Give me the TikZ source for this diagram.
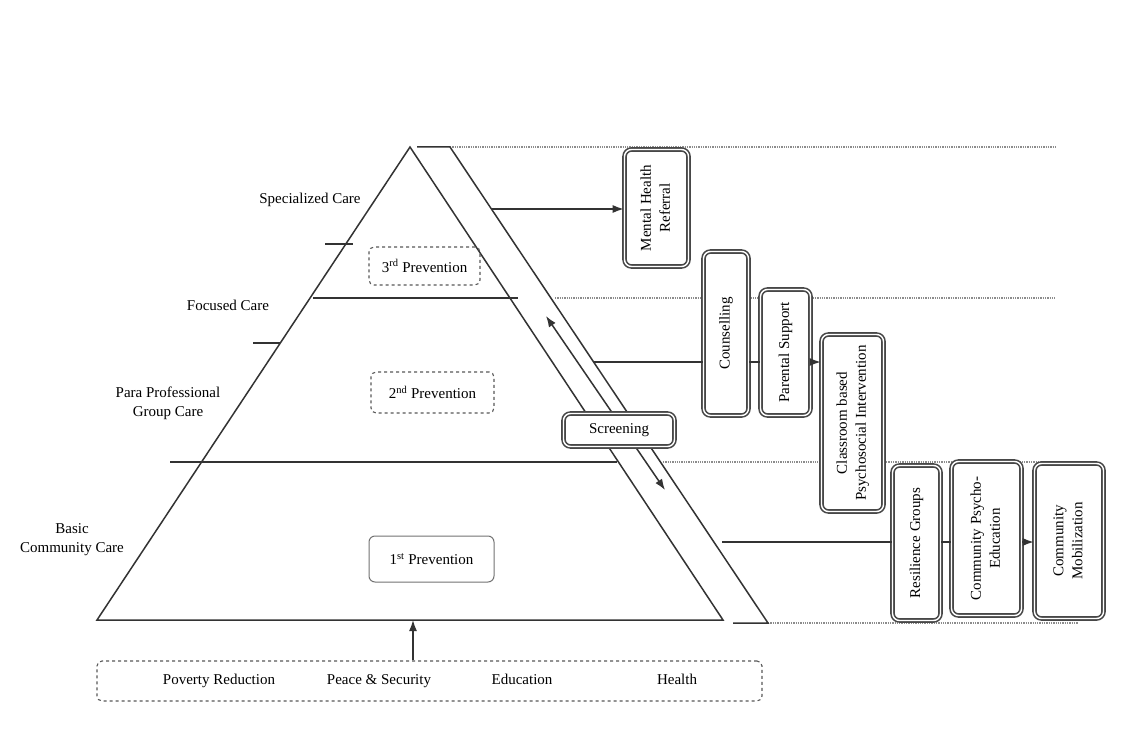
\documentclass[tikz,border=0pt]{standalone}
\usepackage{fontspec}
\setmainfont{Liberation Serif}
\usetikzlibrary{arrows.meta}
\begin{document}
\begin{tikzpicture}[x=1pt,y=-1pt,
  every node/.style={font=\fontsize{15}{19}\selectfont, text=black},
  ln/.style={line width=1.5pt, draw=black!80},
  dotln/.style={line width=1.3pt, draw=black!45, densely dotted},
  tip/.style={Latex[length=11pt,width=8pt]},
  arr/.style={ln, -{Latex[length=11pt,width=8pt]}},
  dbox/.style={draw=black!72, double=white, double distance=1.4pt, line width=1.6pt,
    rounded corners=7pt, fill=white, inner sep=0pt, align=center},
  dashbox/.style={draw=black!65, dashed, line width=1.1pt, rounded corners=5pt, inner sep=0pt},
  lbl/.style={align=center, inner sep=1pt},
  pil/.style={anchor=base}
]
\useasboundingbox (0,0) rectangle (1142,730);
\fill[white] (0,0) rectangle (1142,730);

% named points
\coordinate (apex) at (410,147);
\coordinate (bl) at (97,620);
\coordinate (br) at (723,620);
\coordinate (bandtl) at (417,147);
\coordinate (bandtr) at (450,147);
\coordinate (bandbl) at (733,623);
\coordinate (bandbr) at (768,623);

% dotted guide lines
\draw[dotln] (bandtr) -- (1055,147);
\draw[dotln] (555,298) -- (1055,298);
\draw[dotln] (663,462) -- (1075,462);
\draw[dotln] (bandbr) -- (1078,623);

% pyramid
\draw[ln] (bl) -- (apex) -- (br) -- cycle;
% band
\draw[ln] (bandtl) -- (bandtr) -- (bandbr) -- (bandbl);
% level lines
\draw[ln] (313,298) -- (518,298);
\draw[ln] (170,462) -- (617,462);
\draw[ln] (325,244) -- (353,244);
\draw[ln] (253,343) -- (280,343);

% left labels
\node[lbl] (spec) at (310,200) {Specialized Care};
\node[lbl] (foc) at (228,305) {Focused Care};
\node[lbl] (para) at (168,403) {Para Professional\\Group Care};
\node[lbl] (basic) at (72,540) {Basic\\Community Care};

% prevention boxes
\node[dashbox, minimum width=111, minimum height=38] (p3) at (424.5,266) {3\textsuperscript{rd} Prevention};
\node[dashbox, minimum width=123, minimum height=41] (p2) at (432.5,392.5) {2\textsuperscript{nd} Prevention};
\node[draw=black!55, line width=1pt, rounded corners=6pt, inner sep=0pt, minimum width=125, minimum height=46] (p1) at (431.5,559) {1\textsuperscript{st} Prevention};

% screening double arrow
\coordinate (scrA) at (546,316);
\coordinate (scrB) at (665,490);
\draw[ln, {Latex[length=11pt,width=8pt]}-{Latex[length=11pt,width=8pt]}] (scrA) -- (scrB);
\node[dbox, minimum width=111, minimum height=33] (scr) at (619,430) {Screening};

% right boxes
\node[dbox, minimum width=64, minimum height=117] (mhr) at (656.5,208)
  {\rotatebox{90}{\begin{tabular}{@{}c@{}}Mental Health\\Referral\end{tabular}}};
\node[dbox, minimum width=45, minimum height=164] (cou) at (726,333.5)
  {\rotatebox{90}{Counselling}};
\node[dbox, minimum width=50, minimum height=126] (par) at (785.5,352.5)
  {\rotatebox{90}{Parental Support}};
\node[dbox, minimum width=62, minimum height=177] (cls) at (852.5,423)
  {\rotatebox{90}{\begin{tabular}{@{}c@{}}Classroom based\\Psychosocial Intervention\end{tabular}}};
\node[dbox, minimum width=48, minimum height=155] (res) at (916.5,543)
  {\rotatebox{90}{Resilience Groups}};
\node[dbox, minimum width=70, minimum height=154] (cpe) at (986.5,538.5)
  {\rotatebox{90}{\begin{tabular}{@{}c@{}}Community Psycho-\\Education\end{tabular}}};
\node[dbox, minimum width=69, minimum height=155] (cm) at (1069,541)
  {\rotatebox{90}{\begin{tabular}{@{}c@{}}Community\\Mobilization\end{tabular}}};

% connectors
\coordinate (c1) at (492,209);
\draw[arr] (c1) -- (c1 -| mhr.west);
\coordinate (c2) at (594,362);
\draw[ln] (c2) -- (c2 -| cou.west);
\draw[ln] (cou.east |- c2) -- (c2 -| par.west);
\draw[arr] (par.east |- c2) -- (c2 -| cls.west);
\coordinate (c3) at (722,542);
\draw[ln] (c3) -- (c3 -| res.west);
\draw[ln] (res.east |- c3) -- (c3 -| cpe.west);
\draw[arr] (cpe.east |- c3) -- (c3 -| cm.west);

% bottom pillars
\node[dashbox, minimum width=665, minimum height=40] (pill) at (429.5,681) {};
\node[pil] (pov) at (219,684) {Poverty Reduction};
\node[pil] (peace) at (379,684) {Peace \& Security};
\node[pil] (edu) at (522,684) {Education};
\node[pil] (hea) at (677,684) {Health};
\coordinate (baseup) at (413,620);
\draw[arr] (pill.north -| baseup) -- (baseup);
\end{tikzpicture}
\end{document}
